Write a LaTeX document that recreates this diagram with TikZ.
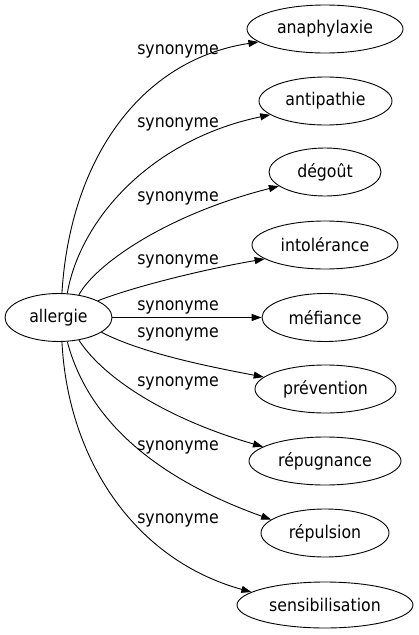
\documentclass[tikz,border=0pt]{standalone}
\usepackage{fontspec}
\setmainfont{DejaVu Sans Condensed}
\usetikzlibrary{shapes.geometric,arrows.meta}
\begin{document}
\begin{tikzpicture}[x=1pt,y=-1pt,
  term/.style={draw, ellipse, line width=0.9pt, inner sep=0pt, minimum height=48pt, font=\fontsize{17.5}{20}\selectfont},
  rel/.style={font=\fontsize{17.5}{20}\selectfont, inner sep=0pt},
  edge/.style={line width=0.9pt, -{Triangle[length=10pt,width=7pt]}}]
\useasboundingbox (0,0) rectangle (419,635);
\node[term, minimum width=107pt] (allergie) at (58.5,317.5) {allergie};
\node[term, minimum width=156pt] (anaphylaxie) at (325,29) {anaphylaxie};
\node[term, minimum width=133pt] (antipathie) at (325.5,101) {antipathie};
\node[term, minimum width=112pt] (degout) at (325,172) {dégoût};
\node[term, minimum width=146pt] (intolerance) at (325,245) {intolérance};
\node[term, minimum width=126pt] (mefiance) at (325,317.5) {méfiance};
\node[term, minimum width=141pt] (prevention) at (325.5,389) {prévention};
\node[term, minimum width=152pt] (repugnance) at (325,461) {répugnance};
\node[term, minimum width=128pt] (repulsion) at (325,533) {répulsion};
\node[term, minimum width=176pt, minimum height=46pt] (sensibilisation) at (325,605) {sensibilisation};

\draw[edge] (allergie.82) .. controls (70,160) and (140,60) .. (anaphylaxie.191);
\draw[edge] (allergie.70) .. controls (80,220) and (150,140) .. (antipathie.194);
\draw[edge] (allergie.48) .. controls (95,265) and (165,215) .. (degout.197);
\draw[edge] (allergie.23) .. controls (130,288) and (200,270) .. (intolerance.193);
\draw[edge] (allergie.0) -- (mefiance.180);
\draw[edge] (allergie.-19) .. controls (140,352) and (200,365) .. (prevention.169);
\draw[edge] (allergie.-48) .. controls (105,380) and (170,420) .. (repugnance.167);
\draw[edge] (allergie.-70) .. controls (88,420) and (155,478) .. (repulsion.166);
\draw[edge] (allergie.-82) .. controls (68,460) and (135,560) .. (sensibilisation.170);

\node[rel] (l1) at (178,51) {synonyme};
\node[rel] (l2) at (178,124) {synonyme};
\node[rel] (l3) at (178,198) {synonyme};
\node[rel] (l4) at (178,261) {synonyme};
\node[rel] (l5) at (178,307) {synonyme};
\node[rel] (l6) at (178,334) {synonyme};
\node[rel] (l7) at (178,383) {synonyme};
\node[rel] (l8) at (178,447) {synonyme};
\node[rel] (l9) at (178,520) {synonyme};
\end{tikzpicture}
\end{document}
